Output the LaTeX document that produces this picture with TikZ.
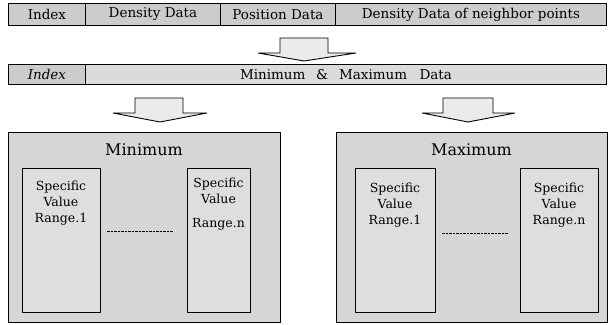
\documentclass[tikz,border=0pt]{standalone}
\usepackage{fontspec}
\setmainfont{DejaVu Serif}
\begin{document}
\begin{tikzpicture}[x=1pt,y=1pt,
  cell/.style={draw=black, line width=0.9pt, fill=gray!40, minimum height=22pt,
    inner sep=0pt, anchor=north west, font=\fontsize{13.5}{15}\selectfont},
  cell2/.style={cell, minimum height=20pt, fill=gray!28},
  blockarrow/.style={draw=black, line width=0.9pt, fill=gray!16, line join=miter},
  panel/.style={draw=black, line width=1pt, fill=gray!32, inner sep=0pt, anchor=north west},
  innerbox/.style={draw=black, line width=1pt, fill=gray!26, inner sep=0pt, anchor=north west},
  paneltitle/.style={font=\fontsize{16}{18}\selectfont, inner sep=0pt},
  boxtext/.style={font=\fontsize{12.5}{16}\selectfont, align=center, inner sep=0pt},
  dotline/.style={line width=0.7pt, dash pattern=on 2.5pt off 1pt}]
\useasboundingbox (0,0) rectangle (613,324);

% Row 1
\node[cell, minimum width=77pt]  (r1a) at (8,321)   {Index};
\node[cell, minimum width=135pt] (r1b) at (85,321)  {Density Data};
\node[cell, minimum width=115pt] (r1c) at (220,321) {Position Data};
\node[cell, minimum width=271pt] (r1d) at (335,321) {Density Data of neighbor points};

% Arrow 1
\draw[blockarrow] (280,286) -- (328,286) -- (328,271) -- (356,271) -- (304,263)
   -- (258,271) -- (280,271) -- cycle;

% Row 2
\node[cell2, minimum width=77pt, fill=gray!40] (r2a) at (8,260) {\itshape Index};
\node[cell2, minimum width=521pt] (r2b) at (85,260)
   {Minimum\hspace{0.8em}\&\hspace{0.8em}Maximum\hspace{0.6em} Data};

% Arrows 2 and 3
\draw[blockarrow] (135,226) -- (183,226) -- (183,211) -- (207,211) -- (160,202)
   -- (113,211) -- (135,211) -- cycle;
\draw[blockarrow] (443,226) -- (493,226) -- (493,211) -- (515,211) -- (468,202)
   -- (422,211) -- (443,211) -- cycle;

% Panels
\node[panel, minimum width=272pt, minimum height=190pt] (pmin) at (8,192) {};
\node[panel, minimum width=271pt, minimum height=190pt] (pmax) at (336,192) {};
\node[paneltitle] (tmin) at (144,174) {Minimum};
\node[paneltitle] (tmax) at (471.5,174) {Maximum};

% Inner boxes
\node[innerbox, minimum width=78pt, minimum height=144pt] (min1) at (22,156) {};
\node[innerbox, minimum width=63pt, minimum height=144pt] (minn) at (187,156) {};
\node[innerbox, minimum width=80pt, minimum height=144pt] (max1) at (355,156) {};
\node[innerbox, minimum width=78pt, minimum height=144pt] (maxn) at (520,156) {};

\node[boxtext] (tmin1) at (61,121) {Specific\\Value\\Range.1};
\node[boxtext] (tminn) at (218.5,120) {Specific\\Value\\[8pt]Range.n};
\node[boxtext] (tmax1) at (395,119) {Specific\\Value\\Range.1};
\node[boxtext] (tmaxn) at (559,119) {Specific\\Value\\Range.n};

% Dashed lines
\coordinate (d1a) at (107,93);
\coordinate (d1b) at (173,93);
\coordinate (d2a) at (442,91);
\coordinate (d2b) at (508,91);
\draw[dotline] (d1a) -- (d1b);
\draw[dotline] (d2a) -- (d2b);
\end{tikzpicture}
\end{document}
